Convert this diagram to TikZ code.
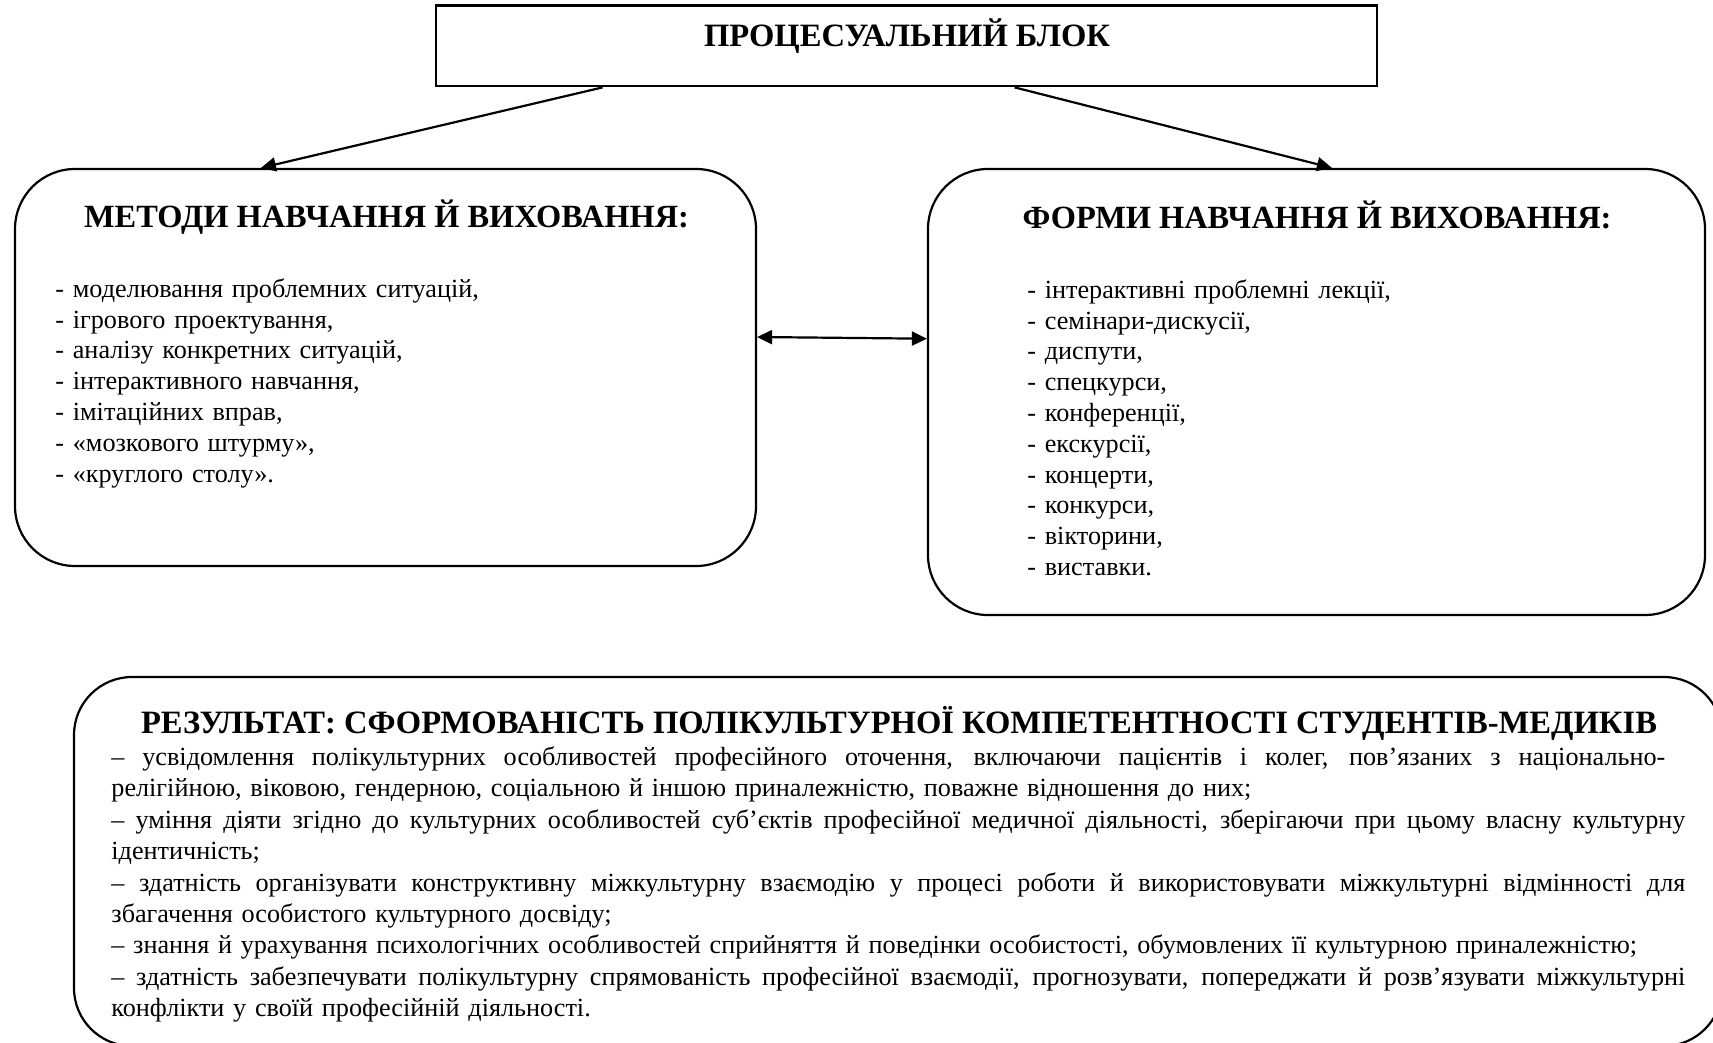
\documentclass[tikz,border=0pt]{standalone}
\usepackage{fontspec}
\setmainfont{Liberation Serif}
\usetikzlibrary{arrows.meta}
\newcommand{\J}[2][787pt]{{\spaceskip=0pt\xspaceskip=0pt\makebox[#1][s]{#2}}}
\begin{document}
\begin{tikzpicture}[x=0.5pt,y=-0.5pt,
  boxline/.style={draw=black,line width=1.1pt},
  roundbox/.style={boxline,rounded corners=30pt,inner sep=0pt},
  conn/.style={line width=1.1pt,-{Triangle[length=7.5pt,width=7pt]}},
  conntwo/.style={line width=1.1pt,{Triangle[length=7.5pt,width=7pt]}-{Triangle[length=7.5pt,width=7pt]}},
  head/.style={font=\fontsize{16.2}{18}\selectfont\bfseries,inner sep=0pt,anchor=base},
  listtext/.style={font=\fontsize{13.1}{15.4}\selectfont,inner sep=0pt,anchor=north west,align=left,text width=330pt}
]
\useasboundingbox (0,0) rectangle (1713,1043);
\fill[white] (0,0) rectangle (1713,1043);

% boxes
\node[boxline,line width=1.4pt,inner sep=0pt,minimum width=470.5pt,minimum height=40.25pt] (top) at (906.5,45.75) {};
\node[roundbox,minimum width=370.5pt,minimum height=198.5pt] (L) at (385.5,367.5) {};
\node[roundbox,minimum width=388.5pt,minimum height=223pt] (R) at (1316.5,392) {};
\node[roundbox,rounded corners=29pt,minimum width=824pt,minimum height=184.5pt] (B) at (898,861.5) {};

% titles
\node[head,font=\fontsize{16.3}{18}\selectfont\bfseries] (toptitle) at (907,47) {ПРОЦЕСУАЛЬНИЙ БЛОК};
\node[head] (Ltitle) at (386.5,228) {МЕТОДИ НАВЧАННЯ Й ВИХОВАННЯ:};
\node[head] (Rtitle) at (1317,229) {ФОРМИ НАВЧАННЯ Й ВИХОВАННЯ:};
\node[head,font=\fontsize{16.3}{18}\selectfont\bfseries] (Btitle) at (899,733) {РЕЗУЛЬТАТ: СФОРМОВАНІСТЬ ПОЛІКУЛЬТУРНОЇ КОМПЕТЕНТНОСТІ СТУДЕНТІВ-МЕДИКІВ};

% lists
\node[listtext] (Llist) at (55,275) {\rule{0pt}{11pt}- моделювання проблемних ситуацій,\\
- ігрового проектування,\\
- аналізу конкретних ситуацій,\\
- інтерактивного навчання,\\
- імітаційних вправ,\\
- «мозкового штурму»,\\
- «круглого столу».};

\node[listtext] (Rlist) at (1027,276) {\rule{0pt}{11pt}- інтерактивні проблемні лекції,\\
- семінари-дискусії,\\
- диспути,\\
- спецкурси,\\
- конференції,\\
- екскурсії,\\
- концерти,\\
- конкурси,\\
- вікторини,\\
- виставки.};

\node[listtext,text width=787pt,font=\fontsize{13.1}{15.7}\selectfont] (Btext) at (111,743) {\rule{0pt}{11pt}\J[777pt]{– усвідомлення полікультурних особливостей професійного оточення, включаючи пацієнтів і колег, пов’язаних з національно-}\\
релігійною, віковою, гендерною, соціальною й іншою приналежністю, поважне відношення до них;\\
\J{– уміння діяти згідно до культурних особливостей суб’єктів професійної медичної діяльності, зберігаючи при цьому власну культурну}\\
ідентичність;\\
\J{– здатність організувати конструктивну міжкультурну взаємодію у процесі роботи й використовувати міжкультурні відмінності для}\\
збагачення особистого культурного досвіду;\\
– знання й урахування психологічних особливостей сприйняття й поведінки особистості, обумовлених її культурною приналежністю;\\
\J{– здатність забезпечувати полікультурну спрямованість професійної взаємодії, прогнозувати, попереджати й розв’язувати міжкультурні}\\
конфлікти у своїй професійній діяльності.};

% connectors
\draw[conn] ([xshift=84pt]top.south west) -- ([xshift=123.5pt]L.north west);
\draw[conn] ([xshift=290pt]top.south west) -- ([xshift=202.5pt]R.north west);
\draw[conntwo] ([yshift=15.25pt]L.east) -- ([yshift=26.65pt]R.west);
\end{tikzpicture}
\end{document}
